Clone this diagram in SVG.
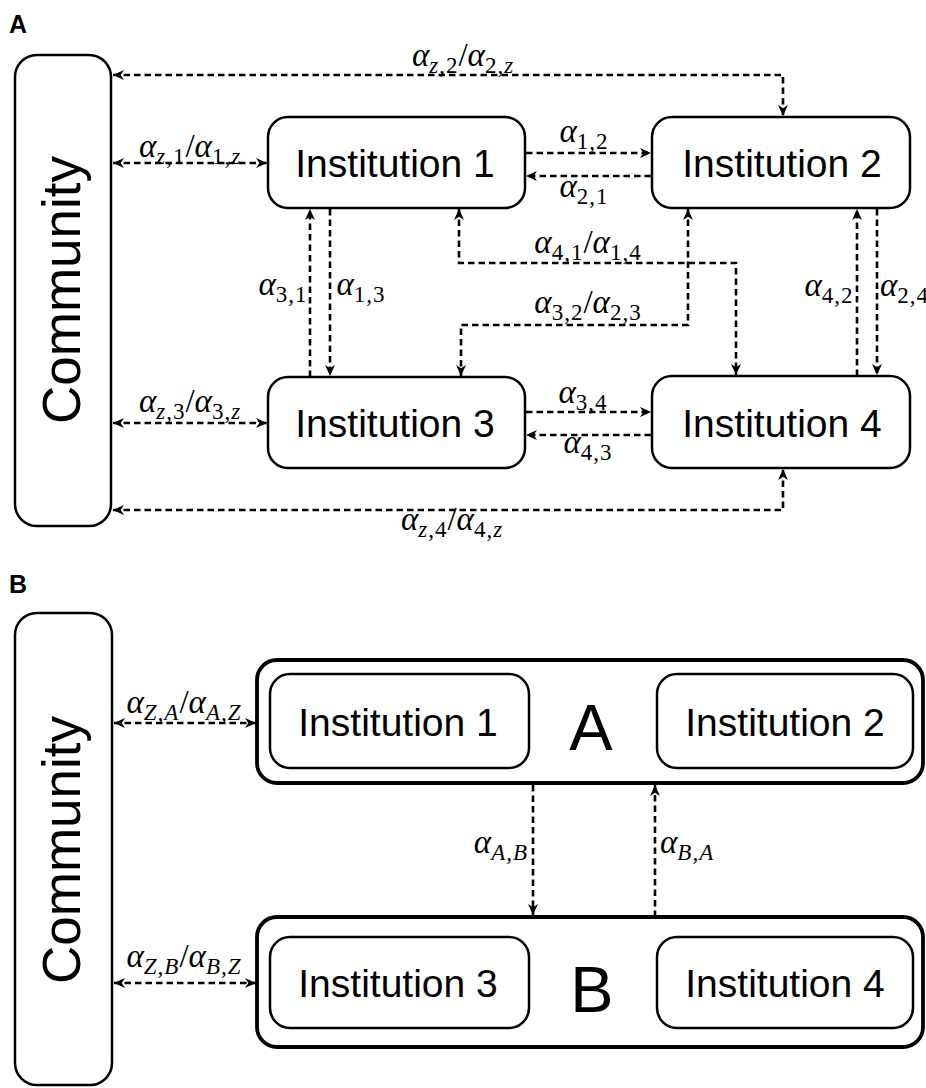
<svg xmlns="http://www.w3.org/2000/svg" width="926" height="1088" viewBox="0 0 926 1088">
<style>
.bx{fill:#fff;stroke:#000;stroke-width:2.5}
.ob{fill:#fff;stroke:#000;stroke-width:3.8}
.t{font-family:"Liberation Sans",Arial,sans-serif;font-size:39px;text-anchor:middle;fill:#000}
.cm{font-family:"Liberation Sans",Arial,sans-serif;font-size:53px;text-anchor:middle;fill:#000}
.big{font-family:"Liberation Sans",Arial,sans-serif;font-size:65px;text-anchor:middle;fill:#000}
.pl{font-family:"Liberation Sans",Arial,sans-serif;font-size:25px;font-weight:bold;fill:#000}
.m{font-family:"Liberation Serif","Times New Roman",serif;font-size:33px;font-style:italic;text-anchor:middle;fill:#000}
.s{font-size:23px;font-style:normal;letter-spacing:1px}
.i{font-style:italic}
.n{font-style:normal}
.c{fill:none;stroke:#000;stroke-width:2.6;stroke-dasharray:6.5 4;marker-end:url(#ah)}
.d{marker-start:url(#ah)}
</style>
<defs>
<marker id="ah" viewBox="0 0 10 10" refX="10" refY="5" markerWidth="11" markerHeight="11" markerUnits="userSpaceOnUse" orient="auto-start-reverse">
<path d="M0,0.5 L10,5 L0,9.5 L3,5 z" fill="#000"/>
</marker>
</defs>

<text class="pl" x="9" y="33">A</text>
<text class="pl" x="9" y="593">B</text>

<g id="connectors">
<path class="c d" d="M113,75 L783,75 L783,116"/>
<path class="c d" d="M113,163 L267,163"/>
<path class="c" d="M526,153 L651,153"/>
<path class="c" d="M651,176 L526,176"/>
<path class="c" d="M310,377 L310,209"/>
<path class="c" d="M330,209 L330,376"/>
<path class="c d" d="M459,209 L459,263 L736,263 L736,375"/>
<path class="c d" d="M688,209 L688,325 L461,325 L461,376"/>
<path class="c" d="M857,376 L857,209"/>
<path class="c" d="M877,209 L877,375"/>
<path class="c d" d="M113,423 L267,423"/>
<path class="c" d="M526,412 L651,412"/>
<path class="c" d="M651,435 L526,435"/>
<path class="c d" d="M113,510 L783,510 L783,469"/>
<path class="c d" d="M114,723 L256,723"/>
<path class="c d" d="M114,983 L256,983"/>
<path class="c" d="M533,785 L533,915"/>
<path class="c" d="M655,917 L655,785"/>
</g>

<g id="labels">
<text class="m" x="463" y="66">α<tspan class="s" dy="7"><tspan class="i">z</tspan>,2</tspan><tspan class="n" dy="-7">/</tspan>α<tspan class="s" dy="7">2,<tspan class="i">z</tspan></tspan></text>
<text class="m" x="190" y="157">α<tspan class="s" dy="7"><tspan class="i">z</tspan>,1</tspan><tspan class="n" dy="-7">/</tspan>α<tspan class="s" dy="7">1,<tspan class="i">z</tspan></tspan></text>
<text class="m" x="584" y="142">α<tspan class="s" dy="7">1,2</tspan></text>
<text class="m" x="584" y="197">α<tspan class="s" dy="7">2,1</tspan></text>
<text class="m" x="283" y="295">α<tspan class="s" dy="7">3,1</tspan></text>
<text class="m" x="361" y="295">α<tspan class="s" dy="7">1,3</tspan></text>
<text class="m" x="588" y="253">α<tspan class="s" dy="7">4,1</tspan><tspan class="n" dy="-7">/</tspan>α<tspan class="s" dy="7">1,4</tspan></text>
<text class="m" x="588" y="313">α<tspan class="s" dy="7">3,2</tspan><tspan class="n" dy="-7">/</tspan>α<tspan class="s" dy="7">2,3</tspan></text>
<text class="m" x="829" y="296">α<tspan class="s" dy="7">4,2</tspan></text>
<text class="m" x="880" y="296" style="text-anchor:start">α<tspan class="s" dy="7">2,4</tspan></text>
<text class="m" x="190" y="412">α<tspan class="s" dy="7"><tspan class="i">z</tspan>,3</tspan><tspan class="n" dy="-7">/</tspan>α<tspan class="s" dy="7">3,<tspan class="i">z</tspan></tspan></text>
<text class="m" x="583" y="403">α<tspan class="s" dy="7">3,4</tspan></text>
<text class="m" x="588" y="453">α<tspan class="s" dy="7">4,3</tspan></text>
<text class="m" x="452" y="530">α<tspan class="s" dy="7"><tspan class="i">z</tspan>,4</tspan><tspan class="n" dy="-7">/</tspan>α<tspan class="s" dy="7">4,<tspan class="i">z</tspan></tspan></text>
<text class="m" x="184" y="713">α<tspan class="s i" dy="7">Z,A</tspan><tspan class="n" dy="-7">/</tspan>α<tspan class="s i" dy="7">A,Z</tspan></text>
<text class="m" x="184" y="967">α<tspan class="s i" dy="7">Z,B</tspan><tspan class="n" dy="-7">/</tspan>α<tspan class="s i" dy="7">B,Z</tspan></text>
<text class="m" x="528" y="853" style="text-anchor:end">α<tspan class="s i" dy="7">A,B</tspan></text>
<text class="m" x="660" y="853" style="text-anchor:start">α<tspan class="s i" dy="7">B,A</tspan></text>
</g>

<g id="communityA">
<rect class="bx" x="15" y="55" width="96" height="471" rx="22"/>
<text class="cm" transform="translate(80,290) rotate(-90)">Community</text>
</g>
<g id="inst1A">
<rect class="bx" x="268" y="117" width="257" height="91" rx="20"/>
<text class="t" x="395" y="177">Institution 1</text>
</g>
<g id="inst2A">
<rect class="bx" x="652" y="117" width="258" height="91" rx="20"/>
<text class="t" x="782" y="177">Institution 2</text>
</g>
<g id="inst3A">
<rect class="bx" x="268" y="377" width="257" height="91" rx="20"/>
<text class="t" x="395" y="437">Institution 3</text>
</g>
<g id="inst4A">
<rect class="bx" x="652" y="376" width="258" height="92" rx="20"/>
<text class="t" x="782" y="437">Institution 4</text>
</g>

<g id="communityB">
<rect class="bx" x="15" y="613" width="97" height="472" rx="22"/>
<text class="cm" transform="translate(80,850) rotate(-90)">Community</text>
</g>
<g id="groupA">
<rect class="ob" x="257" y="660" width="666" height="123" rx="20"/>
<text class="big" x="591" y="750">A</text>
</g>
<g id="inst1B">
<rect class="bx" x="270" y="674" width="259" height="94" rx="20"/>
<text class="t" x="398" y="736">Institution 1</text>
</g>
<g id="inst2B">
<rect class="bx" x="657" y="674" width="256" height="94" rx="20"/>
<text class="t" x="785" y="736">Institution 2</text>
</g>
<g id="groupB">
<rect class="ob" x="257" y="917" width="666" height="130" rx="20"/>
<text class="big" x="592" y="1012">B</text>
</g>
<g id="inst3B">
<rect class="bx" x="270" y="937" width="259" height="91" rx="20"/>
<text class="t" x="398" y="997">Institution 3</text>
</g>
<g id="inst4B">
<rect class="bx" x="657" y="937" width="256" height="91" rx="20"/>
<text class="t" x="785" y="997">Institution 4</text>
</g>
</svg>
